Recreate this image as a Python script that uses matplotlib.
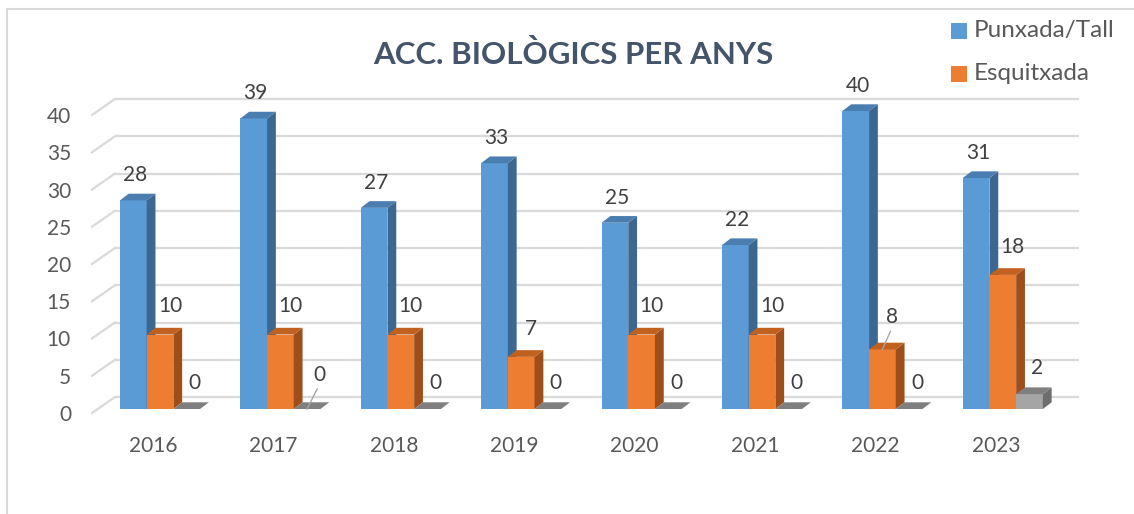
import matplotlib
matplotlib.use("Agg")
import matplotlib.pyplot as plt
from matplotlib.patches import Polygon, Rectangle
import numpy as np

plt.rcParams['font.family'] = ['Lato', 'DejaVu Sans']

# ---------------- data ----------------
years = ['2016', '2017', '2018', '2019', '2020', '2021', '2022', '2023']
punxada = [28, 39, 27, 33, 25, 22, 40, 31]
esquitxada = [10, 10, 10, 7, 10, 10, 8, 18]
altres = [0, 0, 0, 0, 0, 0, 0, 2]
series_names = ['Punxada/Tall', 'Esquitxada']
yticks = [0, 5, 10, 15, 20, 25, 30, 35, 40]
title = 'ACC. BIOLÒGICS PER ANYS'

# ---------------- geometry (pixel based scale) ----------------
W, H = 1134, 514
DPI = 100
PXC = 120.4   # px per category
PXV = 7.45    # px per value unit
X0, Y0 = 160, 409  # pixel of category 0 centre / value 0 (bar base)

def ux(px):
    return px / PXC

def uy(px):
    return px / PXV

fig = plt.figure(figsize=(W / DPI, H / DPI), dpi=DPI)
ax = fig.add_axes([0, 0, 1, 1])
ax.set_xlim(ux(0 - X0), ux(W - X0))
ax.set_ylim(uy(Y0 - H), uy(Y0 - 0))
ax.axis('off')

grid_c = '#D9D9D9'
# chart outer border
fig.add_artist(plt.Line2D([7 / W, 1], [1 - 9 / H, 1 - 9 / H], color=grid_c, lw=1.5))
fig.add_artist(plt.Line2D([7 / W, 7 / W], [0, 1 - 9 / H], color=grid_c, lw=1.5))

# back wall grid lines + left diagonal
back_dy = uy(12)      # back wall is 12 px above bar base
front_dy = uy(-4)     # front edge 4 px below bar base
wall_x0 = ux(115 - X0)
wall_x1 = ux(1079 - X0)
front_x = ux(92 - X0)
FS = 15
for g in yticks:
    ax.plot([wall_x0, wall_x1], [g + back_dy, g + back_dy], color=grid_c, lw=1.6,
            solid_capstyle='butt', zorder=1)
    ax.plot([front_x, wall_x0], [g + front_dy, g + back_dy], color=grid_c, lw=1.6,
            zorder=1)
    ax.text(ux(71 - X0), g + front_dy - uy(2), str(g), ha='right', va='center',
            fontsize=FS, color='#595959')

# bars
bw = ux(26.7)
ddx = ux(8.8)
ddy = uy(6.7)
colors = [
    ('#5B9BD5', '#3B6790', '#4A7EB0'),   # front, side, top
    ('#ED7D31', '#9E4E1B', '#C0611F'),
    ('#A5A5A5', '#6E6E6E', '#7F7F7F'),
]
label_off = [(2, 25), (10, 28), (8, 26)]   # px offsets (right, up)

def bar3d(xl, h, cols, z):
    f, s, t = cols
    if h > 0:
        ax.add_patch(Rectangle((xl, 0), bw, h, facecolor=f, edgecolor='none', zorder=z))
        ax.add_patch(Polygon([(xl + bw, 0), (xl + bw + ddx, ddy), (xl + bw + ddx, h + ddy),
                              (xl + bw, h)], closed=True, facecolor=s, edgecolor='none', zorder=z))
    ax.add_patch(Polygon([(xl, h), (xl + ddx, h + ddy), (xl + bw + ddx, h + ddy),
                          (xl + bw, h)], closed=True, facecolor=t, edgecolor='none', zorder=z))

all_series = [punxada, esquitxada, altres]
# special moved labels (with leader lines): (series, category) -> extra px offset
moved = {(2, 1): (4, 8), (1, 6): (0, 4)}
z = 3
for i in range(len(years)):
    for k, vals in enumerate(all_series):
        xl = i - 1.5 * bw + k * bw
        v = vals[i]
        bar3d(xl, v, colors[k], z)
        z += 1
        ox, oy = label_off[k]
        if (k, i) in moved:
            mx, my = moved[(k, i)]
            ox2, oy2 = ox + mx, oy + my
            cx = xl + bw / 2
            ax.plot([cx + ux(0), cx + ux(ox2 - 2)], [v + uy(0), v + uy(oy2 - 14)],
                    color='#A6A6A6', lw=1.0, zorder=100)
            ox, oy = ox2, oy2
        ax.text(xl + bw / 2 + ux(ox), v + uy(oy), str(v), ha='center', va='center',
                fontsize=FS, color='#404040', zorder=101)
    ax.text(i + ux(-7), uy(-37), years[i], ha='center', va='center', fontsize=FS,
            color='#595959')

# title
fig.text(573 / W, 1 - 55 / H, title, ha='center', va='center', fontsize=22.5,
         fontweight='bold', color='#44546A')

# legend
for k, name in enumerate(series_names):
    cy = [31, 74][k]
    fig.add_artist(Rectangle((951 / W, 1 - (cy + 8) / H), 16 / W, 16 / H,
                             facecolor=colors[k][0], edgecolor='none',
                             transform=fig.transFigure))
    fig.text(974 / W, 1 - cy / H, name, ha='left', va='center', fontsize=17.5,
             color='#595959')

fig.savefig('out.png', dpi=DPI)
